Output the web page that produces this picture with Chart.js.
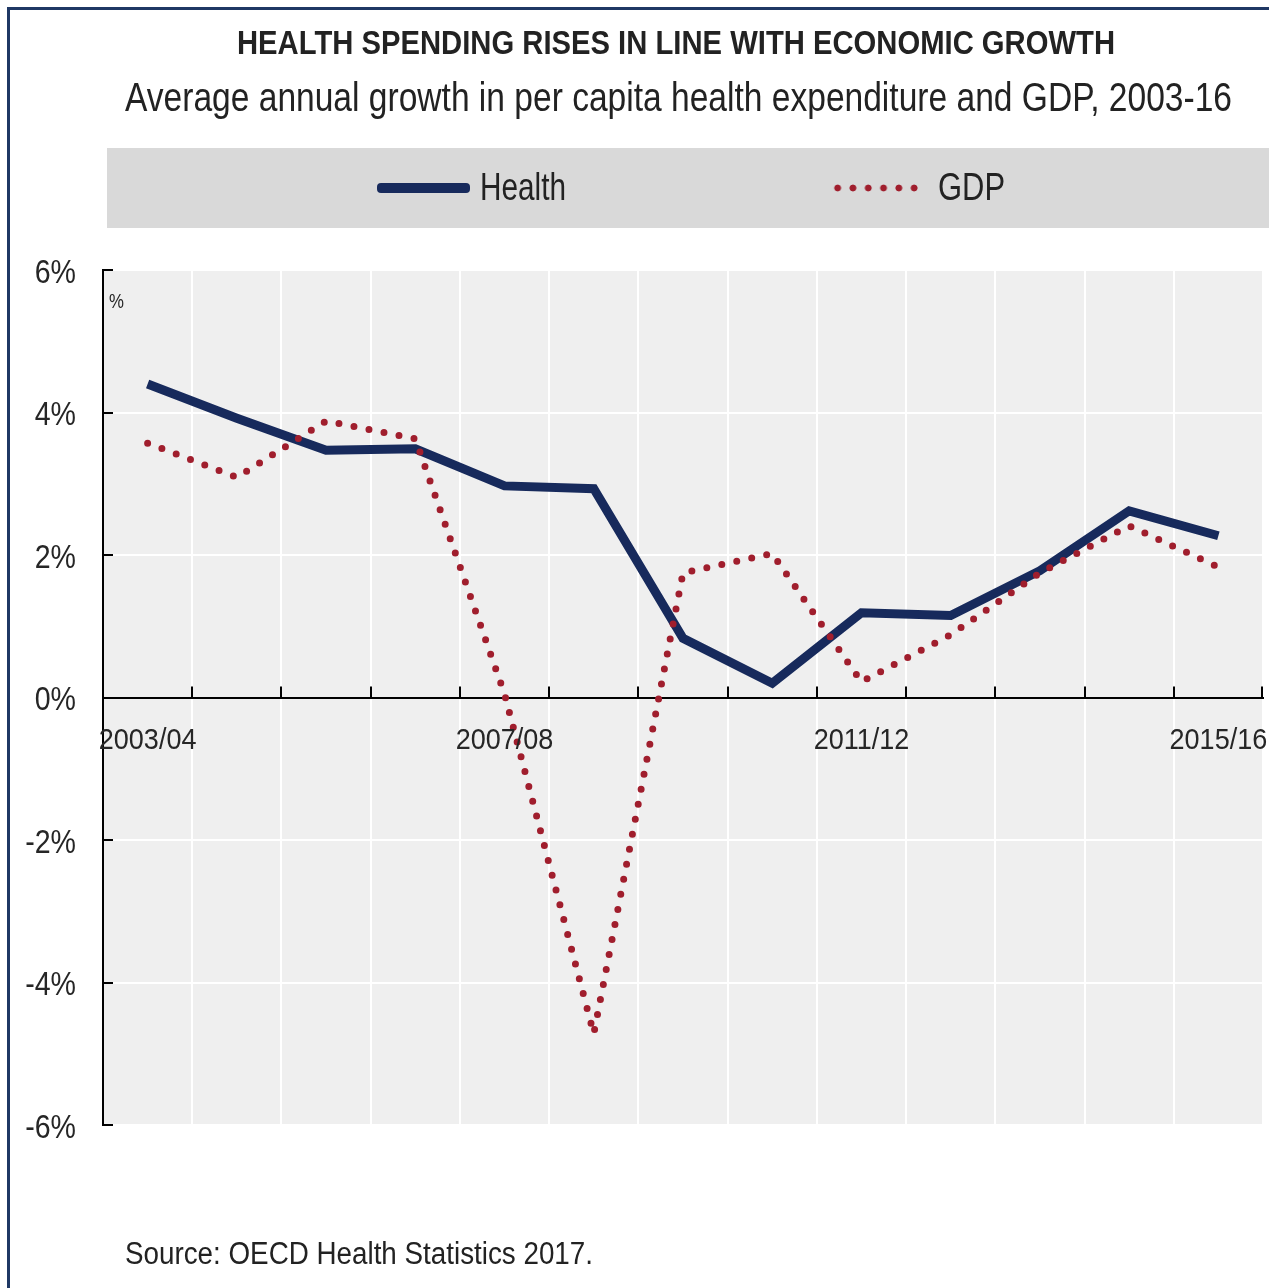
<!DOCTYPE html>
<html>
<head>
<meta charset="utf-8">
<script src="https://cdn.jsdelivr.net/npm/chart.js@4/dist/chart.umd.min.js"></script>
<style>
  html, body { margin: 0; padding: 0; background: #fff; }
  #wrap { position: relative; width: 1269px; height: 1288px; overflow: hidden; background: #fff; }
  #frame { position: absolute; left: 7px; top: 7px; width: 1300px; height: 1400px; border: 3px solid #1f3864; box-sizing: border-box; }
  canvas { position: absolute; left: 0; top: 0; }
  .txt { position: absolute; white-space: nowrap; font-family: "Liberation Sans", Arial, sans-serif; color: #222; line-height: 1; transform-origin: 0 0; }
  #title { left: 237px; top: 25px; font-size: 34px; font-weight: bold; }
  #subtitle { left: 125px; top: 77px; font-size: 40px; }
  #legendBox { position: absolute; left: 107px; top: 148px; width: 1170px; height: 80px; background: #d9d9d9; }
  #lgH { position: absolute; left: 377px; top: 183px; width: 93px; height: 10px; background: #172a5c; border-radius: 4px; }
  #lgG { position: absolute; left: 830px; top: 184px; width: 92px; height: 8px;
         background-image: radial-gradient(circle, #a01e2d 3px, rgba(160,30,45,0) 3.8px);
         background-size: 15.3px 8px; background-repeat: repeat-x; }
  #lgHt { left: 480px; top: 167px; font-size: 39px; }
  #lgGt { left: 938px; top: 167px; font-size: 39px; }
  #source { left: 125px; top: 1238px; font-size: 31px; }
</style>
</head>
<body>
<div id="wrap">
  <div id="frame"></div>
  <div id="legendBox"></div>
  <canvas id="c" width="1269" height="1288"></canvas>
  <div class="txt" id="title" data-w="878">HEALTH SPENDING RISES IN LINE WITH ECONOMIC GROWTH</div>
  <div class="txt" id="subtitle" data-w="1107">Average annual growth in per capita health expenditure and GDP, 2003-16</div>
  <div id="lgH"></div><div class="txt" id="lgHt" data-w="86">Health</div>
  <div id="lgG"></div><div class="txt" id="lgGt" data-w="67">GDP</div>
  <div class="txt" id="source" data-w="468">Source: OECD Health Statistics 2017.</div>
</div>
<script>
const categories = ['2003/04','2004/05','2005/06','2006/07','2007/08','2008/09','2009/10','2010/11','2011/12','2012/13','2013/14','2014/15','2015/16'];
const health = [4.40, 3.92, 3.47, 3.49, 2.97, 2.93, 0.83, 0.20, 1.19, 1.15, 1.78, 2.62, 2.27];
const gdp    = [3.57, 3.09, 3.88, 3.63, 0.05, -4.72, 1.75, 2.02, 0.22, 0.88, 1.75, 2.41, 1.83];
const shownLabels = ['2003/04','2007/08','2011/12','2015/16'];
const yTicks = [-6, -4, -2, 0, 2, 4, 6];
const unitLabel = '%';

// fit HTML text widths (narrow look)
document.querySelectorAll('.txt[data-w]').forEach(el => {
  const w = el.getBoundingClientRect().width;
  el.style.transform = 'scaleX(' + (parseFloat(el.dataset.w) / w) + ')';
});

function narrowText(ctx, text, x, y, align, sx) {
  ctx.save();
  ctx.translate(x, y);
  ctx.scale(sx, 1);
  ctx.textAlign = align;
  ctx.textBaseline = 'alphabetic';
  ctx.fillText(text, 0, 0);
  ctx.restore();
}

const bgPlugin = {
  id: 'bg',
  beforeDraw(chart) {
    const a = chart.chartArea, ctx = chart.ctx;
    ctx.save();
    ctx.fillStyle = '#efefef';
    ctx.fillRect(a.left, a.top, a.right - a.left, a.bottom - a.top);
    ctx.restore();
  },
  afterDraw(chart) {
    const ctx = chart.ctx, xs = chart.scales.x, ys = chart.scales.y;
    const y0 = ys.getPixelForValue(0);
    ctx.save();
    // inward tick marks
    ctx.strokeStyle = '#000';
    ctx.lineWidth = 2;
    ctx.beginPath();
    for (const v of yTicks) {
      const py = Math.round(ys.getPixelForValue(v));
      ctx.moveTo(xs.left, py); ctx.lineTo(xs.left + 10, py);
    }
    const n = categories.length;
    for (let i = 1; i <= n; i++) {
      const px = Math.round(i < n ? (xs.getPixelForValue(i - 1) + xs.getPixelForValue(i)) / 2 : xs.right - 1);
      ctx.moveTo(px, y0); ctx.lineTo(px, y0 - 11);
    }
    ctx.stroke();
    // tick labels
    ctx.fillStyle = '#262626';
    ctx.font = '34px "Liberation Sans", Arial, sans-serif';
    for (const v of yTicks) {
      const py = ys.getPixelForValue(v);
      narrowText(ctx, v + '%', 76, py + 12.5, 'right', 0.84);
    }
    ctx.font = '30px "Liberation Sans", Arial, sans-serif';
    categories.forEach((c, i) => {
      if (shownLabels.includes(c)) narrowText(ctx, c, xs.getPixelForValue(i), y0 + 51, 'center', 0.9);
    });
    ctx.font = '20px "Liberation Sans", Arial, sans-serif';
    narrowText(ctx, unitLabel, ys.right + 6, ys.getPixelForValue(6) + 38, 'left', 0.84);
    ctx.restore();
  }
};

new Chart(document.getElementById('c'), {
  type: 'line',
  data: {
    labels: categories,
    datasets: [
      { label: 'GDP', data: gdp, borderColor: '#a01e2d', borderWidth: 7, borderDash: [0, 15.3], borderCapStyle: 'round', pointRadius: 0, tension: 0, fill: false },
      { label: 'Health', data: health, borderColor: '#172a5c', borderWidth: 9, pointRadius: 0, tension: 0, fill: false }
    ]
  },
  options: {
    responsive: false,
    devicePixelRatio: 1,
    animation: false,
    layout: { padding: { left: 0, right: 6, top: 270, bottom: 163 } },
    plugins: { legend: { display: false }, title: { display: false }, tooltip: { enabled: false } },
    scales: {
      x: {
        type: 'category',
        offset: true,
        position: { y: 0 },
        grid: { offset: true, color: '#ffffff', lineWidth: 2, drawTicks: false },
        border: { display: true, color: '#000', width: 2 },
        ticks: { display: false }
      },
      y: {
        min: -6, max: 6,
        afterFit(scale) { scale.width = 103; },
        afterBuildTicks(scale) { scale.ticks = yTicks.map(v => ({ value: v })); },
        grid: { color: '#ffffff', lineWidth: 2, drawTicks: false },
        border: { display: true, color: '#000', width: 2 },
        ticks: { display: false }
      }
    }
  },
  plugins: [bgPlugin]
});
</script>
</body>
</html>
